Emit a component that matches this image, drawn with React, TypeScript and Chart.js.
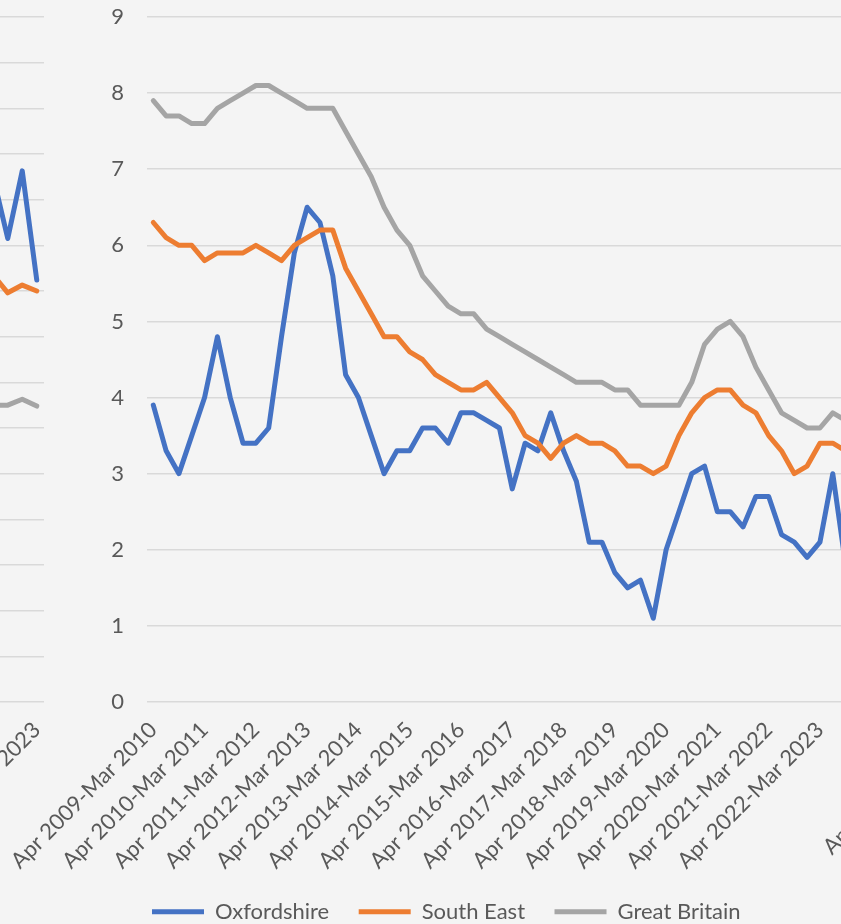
import React, { useEffect, useRef } from 'react';
import { Chart, registerables } from 'chart.js';

Chart.register(...registerables);

// ---------- data: main chart ----------
const categories = [
  'Apr 2009-Mar 2010', 'Jul 2009-Jun 2010', 'Oct 2009-Sep 2010', 'Jan 2010-Dec 2010',
  'Apr 2010-Mar 2011', 'Jul 2010-Jun 2011', 'Oct 2010-Sep 2011', 'Jan 2011-Dec 2011',
  'Apr 2011-Mar 2012', 'Jul 2011-Jun 2012', 'Oct 2011-Sep 2012', 'Jan 2012-Dec 2012',
  'Apr 2012-Mar 2013', 'Jul 2012-Jun 2013', 'Oct 2012-Sep 2013', 'Jan 2013-Dec 2013',
  'Apr 2013-Mar 2014', 'Jul 2013-Jun 2014', 'Oct 2013-Sep 2014', 'Jan 2014-Dec 2014',
  'Apr 2014-Mar 2015', 'Jul 2014-Jun 2015', 'Oct 2014-Sep 2015', 'Jan 2015-Dec 2015',
  'Apr 2015-Mar 2016', 'Jul 2015-Jun 2016', 'Oct 2015-Sep 2016', 'Jan 2016-Dec 2016',
  'Apr 2016-Mar 2017', 'Jul 2016-Jun 2017', 'Oct 2016-Sep 2017', 'Jan 2017-Dec 2017',
  'Apr 2017-Mar 2018', 'Jul 2017-Jun 2018', 'Oct 2017-Sep 2018', 'Jan 2018-Dec 2018',
  'Apr 2018-Mar 2019', 'Jul 2018-Jun 2019', 'Oct 2018-Sep 2019', 'Jan 2019-Dec 2019',
  'Apr 2019-Mar 2020', 'Jul 2019-Jun 2020', 'Oct 2019-Sep 2020', 'Jan 2020-Dec 2020',
  'Apr 2020-Mar 2021', 'Jul 2020-Jun 2021', 'Oct 2020-Sep 2021', 'Jan 2021-Dec 2021',
  'Apr 2021-Mar 2022', 'Jul 2021-Jun 2022', 'Oct 2021-Sep 2022', 'Jan 2022-Dec 2022',
  'Apr 2022-Mar 2023', 'Jul 2022-Jun 2023', 'Oct 2022-Sep 2023',
];

const oxfordshire = [
  3.9, 3.3, 3.0, 3.5, 4.0, 4.8, 4.0, 3.4, 3.4, 3.6,
  4.8, 5.9, 6.5, 6.3, 5.6, 4.3, 4.0, 3.5, 3.0, 3.3,
  3.3, 3.6, 3.6, 3.4, 3.8, 3.8, 3.7, 3.6, 2.8, 3.4,
  3.3, 3.8, 3.3, 2.9, 2.1, 2.1, 1.7, 1.5, 1.6, 1.1,
  2.0, 2.5, 3.0, 3.1, 2.5, 2.5, 2.3, 2.7, 2.7, 2.2,
  2.1, 1.9, 2.1, 3.0, 1.8,
];

const southEast = [
  6.3, 6.1, 6.0, 6.0, 5.8, 5.9, 5.9, 5.9, 6.0, 5.9,
  5.8, 6.0, 6.1, 6.2, 6.2, 5.7, 5.4, 5.1, 4.8, 4.8,
  4.6, 4.5, 4.3, 4.2, 4.1, 4.1, 4.2, 4.0, 3.8, 3.5,
  3.4, 3.2, 3.4, 3.5, 3.4, 3.4, 3.3, 3.1, 3.1, 3.0,
  3.1, 3.5, 3.8, 4.0, 4.1, 4.1, 3.9, 3.8, 3.5, 3.3,
  3.0, 3.1, 3.4, 3.4, 3.3,
];

const greatBritain = [
  7.9, 7.7, 7.7, 7.6, 7.6, 7.8, 7.9, 8.0, 8.1, 8.1,
  8.0, 7.9, 7.8, 7.8, 7.8, 7.5, 7.2, 6.9, 6.5, 6.2,
  6.0, 5.6, 5.4, 5.2, 5.1, 5.1, 4.9, 4.8, 4.7, 4.6,
  4.5, 4.4, 4.3, 4.2, 4.2, 4.2, 4.1, 4.1, 3.9, 3.9,
  3.9, 3.9, 4.2, 4.7, 4.9, 5.0, 4.8, 4.4, 4.1, 3.8,
  3.7, 3.6, 3.6, 3.8, 3.7,
];

const yMin = 0;
const yMax = 9;
const yStep = 1;

// ---------- data: neighbouring chart on the left (only its end is visible) ----------
const prevCategories = ['Jan 2022-Dec 2022', 'Apr 2022-Mar 2023', 'Jul 2022-Jun 2023', 'Oct 2022-Sep 2023'];
const prevOxfordshire = [11.5, 10.15, 11.63, 9.24];
const prevSouthEast = [9.35, 8.96, 9.13, 9.0];
const prevGreatBritain = [6.5, 6.5, 6.63, 6.48];
const prevYMax = 15;

// ---------- styling ----------
const BLUE = '#4472C4';
const ORANGE = '#ED7D31';
const GREY = '#A5A5A5';
const TEXT = '#595959';
const GRID = '#D9D9D9';
const BG = '#F4F4F4';
const FONT = { family: 'Lato, "Open Sans", sans-serif', size: 22 };

const PLOT_TOP = 17;
const PLOT_BOTTOM = 702;
const CANVAS_H = 924;
const PAD_BOTTOM = -120;

const lineDs = (label: string, data: number[], color: string, order: number) => ({
  label,
  data,
  borderColor: color,
  backgroundColor: color,
  borderWidth: 5,
  pointRadius: 0,
  pointHoverRadius: 0,
  tension: 0,
  borderJoinStyle: 'round',
  borderCapStyle: 'round',
  order,
});

const legendPlace = {
  id: 'legendPlace',
  afterLayout(chart: any, _args: any, opts: any) {
    const l = chart.legend;
    if (!l || !opts || opts.x == null) return;
    const P = l.options.labels.padding;
    const fs = FONT.size;
    const w = l.width;
    const h = l.height;
    l.left = opts.x - P;
    l.right = l.left + w;
    l.top = opts.y - P - fs / 2;
    l.bottom = l.top + h;
  },
};

const zeroPad = (s: any) => {
  s.paddingLeft = 0;
  s.paddingRight = 0;
  s.paddingTop = 0;
  s.paddingBottom = 0;
};

function makeConfig(kind: 'main' | 'prev' | 'next'): any {
  const isMain = kind === 'main';
  const isPrev = kind === 'prev';
  const labels = isPrev ? prevCategories : categories;
  const datasets = isMain
    ? [
        lineDs('Oxfordshire', oxfordshire, BLUE, 2),
        lineDs('South East', southEast, ORANGE, 1),
        lineDs('Great Britain', greatBritain, GREY, 0),
      ]
    : isPrev
    ? [
        lineDs('Oxfordshire', prevOxfordshire, BLUE, 2),
        lineDs('South East', prevSouthEast, ORANGE, 1),
        lineDs('Great Britain', prevGreatBritain, GREY, 0),
      ]
    : [];

  return {
    type: 'line',
    data: { labels, datasets },
    plugins: [legendPlace],
    options: {
      animation: false,
      responsive: false,
      maintainAspectRatio: false,
      events: [],
      layout: { padding: { top: PLOT_TOP, left: 0, right: 0, bottom: PAD_BOTTOM }, autoPadding: false },
      plugins: {
        tooltip: { enabled: false },
        legend: {
          display: isMain,
          position: 'bottom',
          align: 'start',
          labels: {
            usePointStyle: true,
            pointStyle: 'line',
            pointStyleWidth: 52,
            padding: 29.5,
            color: TEXT,
            font: FONT,
            sort: (a: any, b: any) => a.datasetIndex - b.datasetIndex,
          },
        },
        legendPlace: isMain ? { x: 152, y: 911.7 } : {},
      },
      scales: {
        x: {
          type: 'category',
          offset: true,
          grid: { display: false },
          border: { display: false },
          ticks: {
            autoSkip: false,
            minRotation: 45,
            maxRotation: 45,
            padding: 7,
            color: TEXT,
            font: FONT,
            callback: (_v: any, i: number) => {
              if (isPrev) return i === labels.length - 1 ? labels[i] : '';
              return i % 4 === 0 ? labels[i] : '';
            },
          },
          afterFit: (s: any) => {
            zeroPad(s);
            const lh = s.chart.legend && s.chart.options.plugins.legend.display ? s.chart.legend.height : 0;
            s.height = CANVAS_H - PLOT_BOTTOM - lh - PAD_BOTTOM;
          },
        },
        y: {
          min: yMin,
          max: isPrev ? prevYMax : yMax,
          grid: { color: GRID, lineWidth: 1.5, drawTicks: false },
          border: { display: false },
          ticks: {
            display: !isPrev,
            stepSize: yStep,
            padding: 23,
            color: TEXT,
            font: FONT,
          },
          afterFit: (s: any) => {
            zeroPad(s);
            s.width = isPrev ? 242 : 146.9;
          },
        },
      },
    },
  };
}

function ChartCanvas({ kind, left, top, width }: { kind: 'main' | 'prev' | 'next'; left: number; top: number; width: number }) {
  const ref = useRef<HTMLCanvasElement>(null);
  useEffect(() => {
    if (!ref.current) return;
    const chart = new Chart(ref.current, makeConfig(kind));
    return () => chart.destroy();
  }, [kind]);
  return (
    <canvas
      ref={ref}
      width={width}
      height={CANVAS_H}
      style={{ position: 'absolute', left, top, width, height: CANVAS_H, display: 'block' }}
    />
  );
}

export default function App() {
  return (
    <div
      style={{
        position: 'fixed',
        left: 0,
        top: 0,
        width: 841,
        height: 924,
        overflow: 'hidden',
        background: BG,
      }}
    >
      <ChartCanvas kind="prev" left={-256} top={0} width={300} />
      <ChartCanvas kind="next" left={812} top={-14} width={852} />
      <ChartCanvas kind="main" left={0} top={0} width={852} />
    </div>
  );
}
